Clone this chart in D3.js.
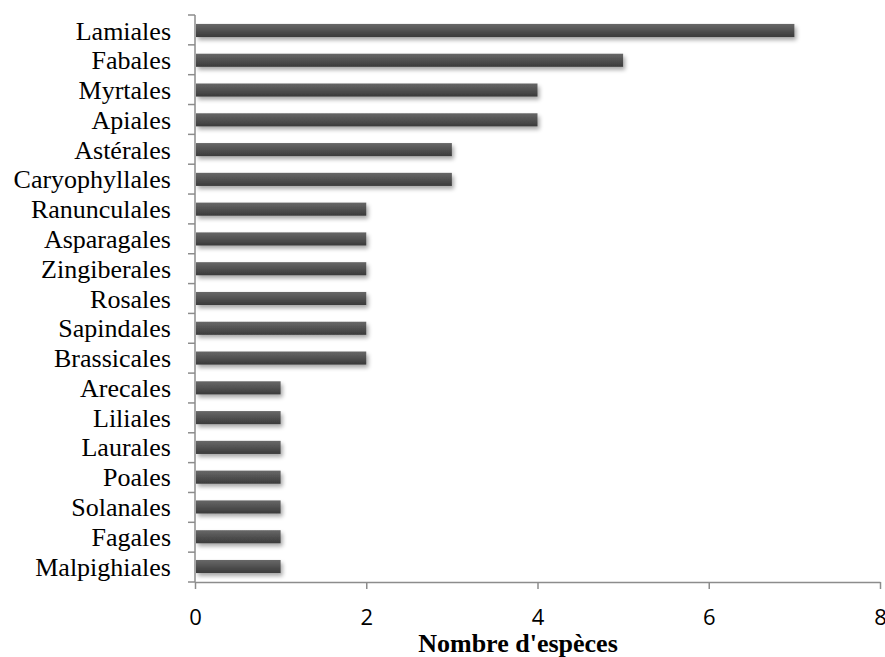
<!DOCTYPE html>
<html>
<head>
<meta charset="utf-8">
<script src="https://cdn.jsdelivr.net/npm/d3@7"></script>
<style>
  body { margin: 0; background: #fff; }
  svg { display: block; }
</style>
</head>
<body>
<svg id="chart" width="885" height="657"></svg>
<script>
// Orders and number of species per order
const orders = ["Lamiales", "Fabales", "Myrtales", "Apiales", "Astérales", "Caryophyllales",
  "Ranunculales", "Asparagales", "Zingiberales", "Rosales", "Sapindales", "Brassicales",
  "Arecales", "Liliales", "Laurales", "Poales", "Solanales", "Fagales", "Malpighiales"];
const species = [7, 5, 4, 4, 3, 3, 2, 2, 2, 2, 2, 2, 1, 1, 1, 1, 1, 1, 1];
const xTicks = [0, 2, 4, 6, 8];
const xTitle = "Nombre d'espèces";

const svg = d3.select("#chart");
const plotLeft = 195, plotRight = 880, plotTop = 15, plotBottom = 582;

const x = d3.scaleLinear().domain([0, 8]).range([plotLeft, plotRight]);
const y = d3.scaleBand().domain(orders).range([plotTop, plotBottom]).paddingInner(0.56).paddingOuter(0.3);

const defs = svg.append("defs");
const grad = defs.append("linearGradient").attr("id", "barGrad")
  .attr("x1", 0).attr("y1", 0).attr("x2", 0).attr("y2", 1);
grad.append("stop").attr("offset", "0%").attr("stop-color", "#686868");
grad.append("stop").attr("offset", "100%").attr("stop-color", "#3a3a3a");

const shadow = defs.append("filter").attr("id", "shadow")
  .attr("x", "-5%").attr("y", "-50%").attr("width", "115%").attr("height", "250%");
shadow.append("feGaussianBlur").attr("in", "SourceAlpha").attr("stdDeviation", 2).attr("result", "b");
shadow.append("feOffset").attr("in", "b").attr("dx", 2).attr("dy", 3).attr("result", "o");
shadow.append("feComponentTransfer").attr("in", "o").attr("result", "s")
  .append("feFuncA").attr("type", "linear").attr("slope", 0.35);
const merge = shadow.append("feMerge");
merge.append("feMergeNode").attr("in", "s");
merge.append("feMergeNode").attr("in", "SourceGraphic");

// Bars
svg.append("g").selectAll("rect").data(orders).join("rect")
  .attr("x", x(0) + 1)
  .attr("y", (d) => y(d))
  .attr("width", (d, i) => x(species[i]) - x(0) - 1)
  .attr("height", y.bandwidth())
  .attr("fill", "url(#barGrad)")
  .attr("filter", "url(#shadow)");

// Y axis: line and ticks at band boundaries
const axisColor = "#8c8c8c";
const yAxis = svg.append("g");
yAxis.append("line").attr("x1", plotLeft).attr("x2", plotLeft).attr("y1", plotTop).attr("y2", plotBottom)
  .attr("stroke", axisColor).attr("stroke-width", 1.5);
const step = (plotBottom - plotTop) / orders.length;
yAxis.selectAll("line.t").data(d3.range(orders.length + 1)).join("line").attr("class", "t")
  .attr("x1", plotLeft - 7).attr("x2", plotLeft)
  .attr("y1", (i) => plotTop + i * step).attr("y2", (i) => plotTop + i * step)
  .attr("stroke", axisColor).attr("stroke-width", 1.5);
yAxis.selectAll("text").data(orders).join("text")
  .attr("x", 171)
  .attr("y", (d) => y(d) + y.bandwidth() / 2)
  .attr("dy", "0.35em")
  .attr("text-anchor", "end")
  .attr("font-family", "'Liberation Serif', 'Times New Roman', serif")
  .attr("font-size", 26)
  .attr("fill", "#000")
  .text((d) => d);

// X axis
const xAxis = svg.append("g").attr("transform", `translate(0,${plotBottom})`)
  .call(d3.axisBottom(x).tickValues(xTicks).tickSize(7).tickSizeOuter(0));
xAxis.select(".domain").attr("stroke", axisColor).attr("stroke-width", 1.5);
xAxis.selectAll(".tick line").attr("stroke", axisColor).attr("stroke-width", 1.5);
xAxis.selectAll(".tick text")
  .attr("y", 43).attr("dy", 0)
  .attr("font-family", "'Open Sans', 'Liberation Sans', sans-serif")
  .attr("font-size", 22)
  .attr("fill", "#000");

svg.append("text")
  .attr("x", 518).attr("y", 652)
  .attr("text-anchor", "middle")
  .attr("font-family", "'Liberation Serif', 'Times New Roman', serif")
  .attr("font-weight", "bold")
  .attr("font-size", 26)
  .text(xTitle);
</script>
</body>
</html>
